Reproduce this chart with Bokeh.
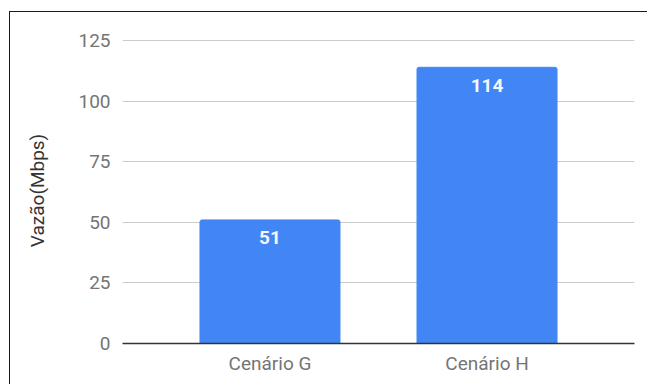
from bokeh.plotting import figure
from bokeh.models import FactorRange, Range1d, FixedTicker, ColumnDataSource
from bokeh.core.properties import value
from bokeh.embed import file_html
from bokeh.resources import INLINE

categories = ["Cenário G", "Cenário H"]
vazao = [51, 114]
y_ticks = [0, 25, 50, 75, 100, 125]
y_title = "Vazão(Mbps)"

src = ColumnDataSource(dict(cat=categories, val=vazao, lbl=[str(v) for v in vazao]))

p = figure(
    width=638, height=373,
    x_range=FactorRange(factors=categories, range_padding=0.1795, range_padding_units="absolute"),
    y_range=Range1d(0, 126.3),
    output_backend="svg", toolbar_location=None,
    min_border_left=112, min_border_right=14, min_border_top=25, min_border_bottom=42,
)
p.margin = (11, 0, 0, 9)
p.styles = {"border-left": "1px solid #1a1a1a", "border-top": "1px solid #1a1a1a"}
p.outline_line_color = None
p.background_fill_color = "white"
p.border_fill_color = "white"

p.vbar(x="cat", top="val", width=0.645, source=src, color="#4285F4", border_radius=(2, 2, 0, 0))
p.text(x="cat", y="val", text="lbl", source=src, text_align="center", text_baseline="middle",
       y_offset=18, text_color="#f4f7fd", text_font=value("Roboto"), text_font_style="bold",
       text_font_size="19px")

p.xgrid.grid_line_color = None
p.ygrid.grid_line_color = "#cccccc"
p.ygrid.ticker = FixedTicker(ticks=y_ticks)

p.yaxis.ticker = FixedTicker(ticks=y_ticks)
p.yaxis.axis_line_color = None
p.yaxis.major_tick_line_color = None
p.yaxis.minor_tick_line_color = None
p.yaxis.major_label_text_color = "#757575"
p.yaxis.major_label_text_font = "Roboto"
p.yaxis.major_label_text_font_size = "19px"
p.yaxis.major_label_standoff = 6
p.yaxis.axis_label = y_title
p.yaxis.axis_label_text_font = "Roboto"
p.yaxis.axis_label_text_font_style = "normal"
p.yaxis.axis_label_text_font_size = "19px"
p.yaxis.axis_label_text_color = "#333333"
p.yaxis.axis_label_standoff = 26

p.xaxis.axis_line_color = "#333333"
p.xaxis.axis_line_width = 1.5
p.xaxis.major_tick_line_color = None
p.xaxis.minor_tick_line_color = None
p.xaxis.major_label_text_color = "#757575"
p.xaxis.major_label_text_font = "Roboto"
p.xaxis.major_label_text_font_size = "19px"
p.xaxis.major_label_standoff = 2

open("out.html", "w").write(file_html(p, INLINE))
